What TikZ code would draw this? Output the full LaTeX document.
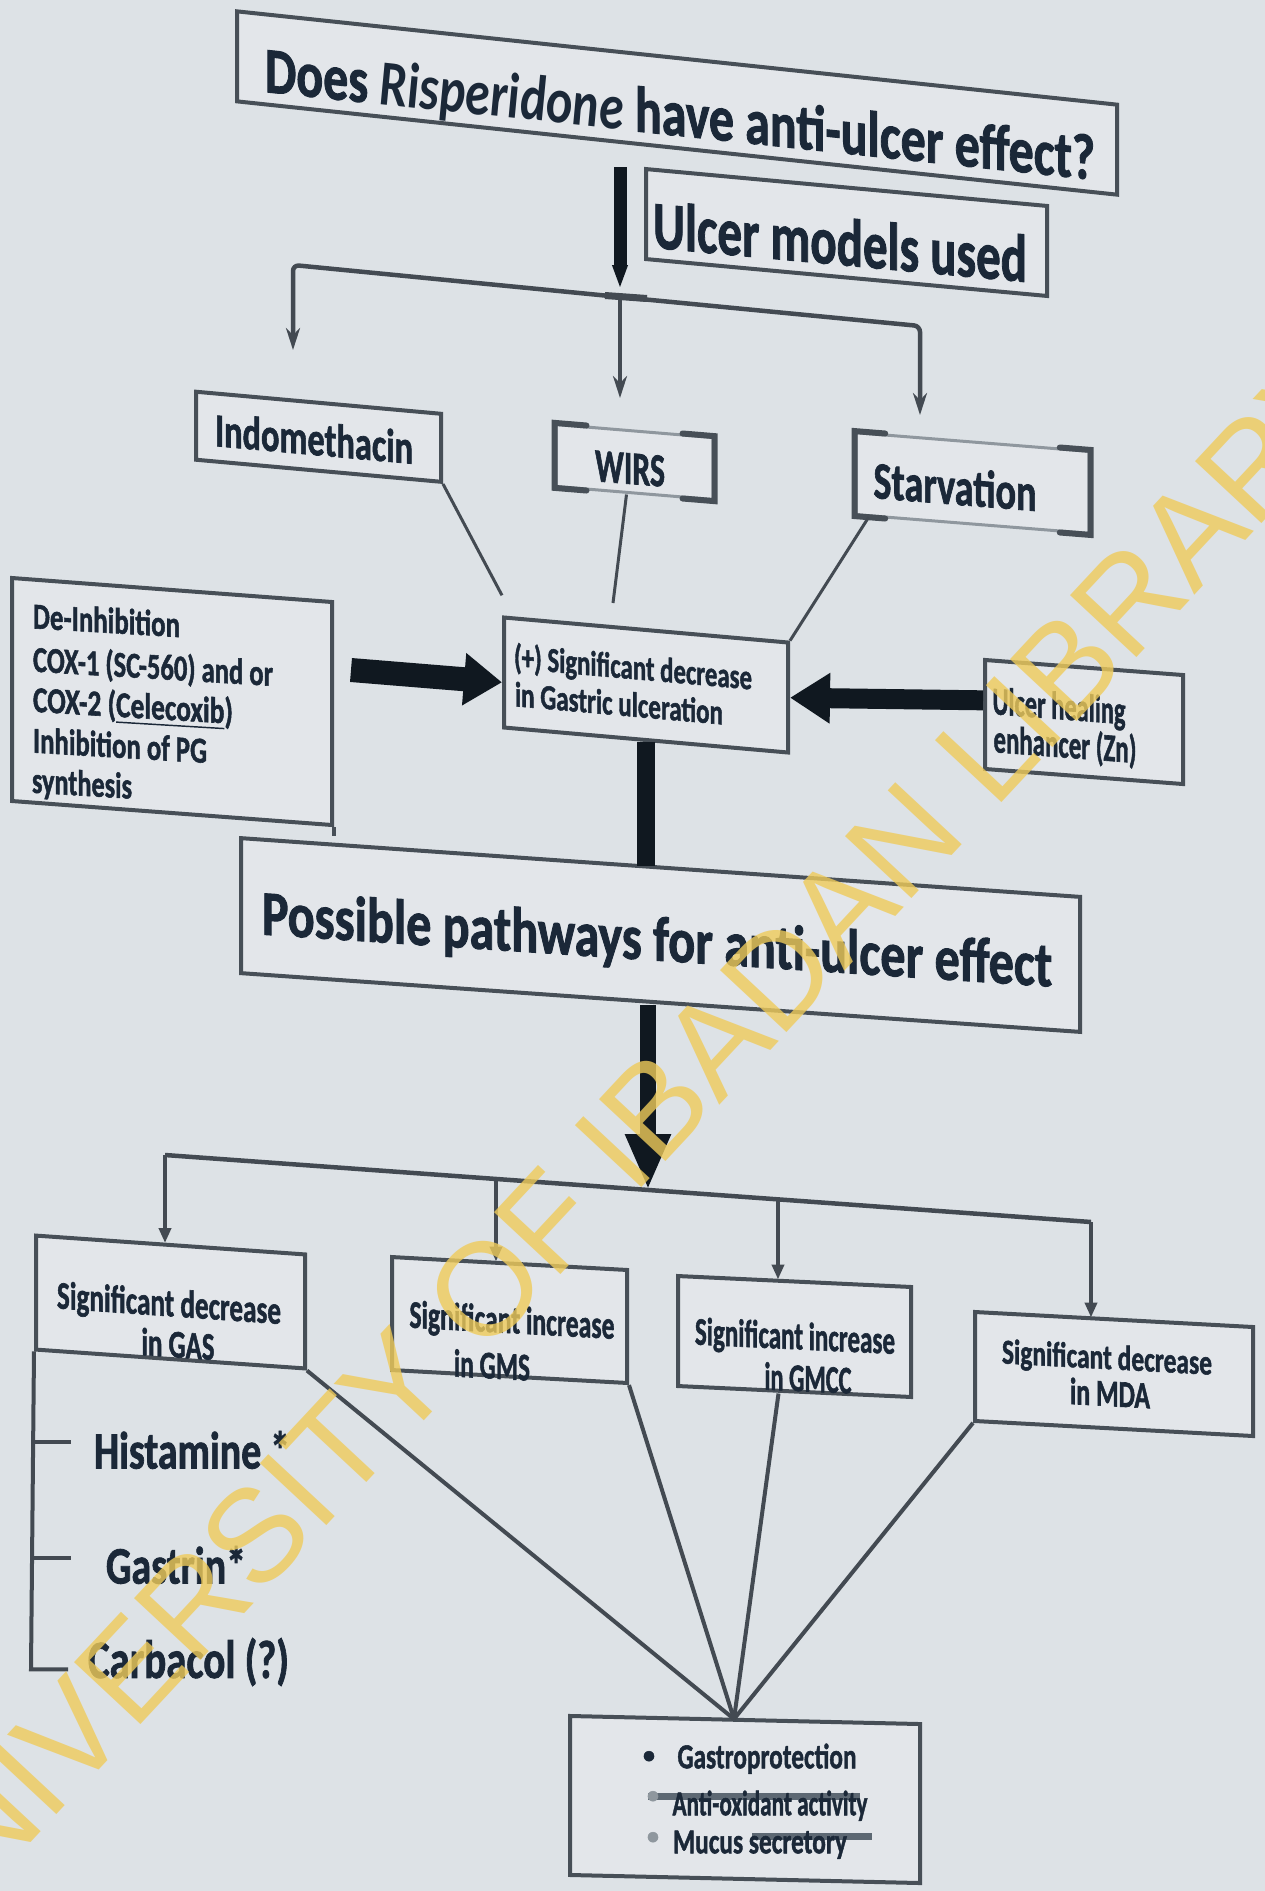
\documentclass[tikz,border=0pt]{standalone}
\usepackage{fontspec}
\usepackage{graphicx}
\setmainfont{Carlito}[BoldFeatures={FakeBold=1.6}]
\setsansfont{Liberation Sans}
\usetikzlibrary{arrows.meta,calc}

\definecolor{paper}{HTML}{DDE2E6}
\definecolor{boxfill}{HTML}{E3E6EA}
\definecolor{boxline}{HTML}{474F57}
\definecolor{ink}{HTML}{1B2838}
\definecolor{wire}{HTML}{434A52}
\definecolor{heavyink}{HTML}{101820}
\definecolor{faint}{HTML}{8F979E}
\definecolor{barcol}{HTML}{5D6873}
\definecolor{stamp}{HTML}{EFCB5A}

% squeeze a line of text into a given width and height (in pt)
\newcommand\fitline[3]{\resizebox{#1pt}{#2pt}{\vphantom{(}#3}}

\begin{document}
\begin{tikzpicture}[x=1pt,y=-1pt,
  box/.style={draw=boxline,line width=4pt,fill=boxfill,inner sep=0pt,transform shape},
  bracketbox/.style={draw=faint,line width=3pt,fill=boxfill,inner sep=0pt,transform shape},
  bracket/.style={draw=boxline,line width=6pt,line cap=round},
  lbl/.style={inner sep=0pt,text=ink,font=\bfseries,transform shape},
  conn/.style={draw=wire,line width=4.5pt},
  headup/.style={-{Stealth[length=22pt,width=14pt]}},
  headlow/.style={-{Triangle[length=15pt,width=12pt]}},
  fat/.style={draw=heavyink},
  bar/.style={draw=barcol,line width=7pt},
  stampfont/.style={inner sep=0pt,text=stamp,text opacity=0.8,font=\sffamily\fontsize{132}{132}\selectfont}]

\useasboundingbox (0,0) rectangle (1265,1891);
\fill[paper] (0,0) rectangle (1265,1891);

% ---------- boxes ----------
\node[box, minimum width=880pt, minimum height=90pt, yslant=-0.106] (q) at (677,103) {};
\node[box, minimum width=401pt, minimum height=90pt, yslant=-0.092] (models) at (846.5,232.5) {};
\node[box, minimum width=245pt, minimum height=68pt, yslant=-0.09] (indo) at (318.5,436.75) {};
\node[bracketbox, minimum width=157pt, minimum height=62pt, yslant=-0.083] (wirs) at (634.5,462) {};
\node[bracketbox, minimum width=233pt, minimum height=82pt, yslant=-0.08] (starv) at (972.5,483) {};
\node[box, minimum width=284pt, minimum height=110pt, yslant=-0.088] (gu) at (646,685) {};
\node[box, minimum width=320pt, minimum height=223pt, yslant=-0.075] (deinh) at (172,701.5) {};
\node[box, minimum width=198pt, minimum height=109pt, yslant=-0.076] (zn) at (1084,722) {};
\node[box, minimum width=839pt, minimum height=135pt, yslant=-0.07] (path) at (660.5,935) {};
\node[box, minimum width=269pt, minimum height=114pt, yslant=-0.07] (gas) at (170.5,1302) {};
\node[box, minimum width=235pt, minimum height=113pt, yslant=-0.055] (gms) at (509.5,1320) {};
\node[box, minimum width=233pt, minimum height=110pt, yslant=-0.047] (gmcc) at (794.5,1336.5) {};
\node[box, minimum width=278pt, minimum height=109pt, yslant=-0.054] (mda) at (1114,1374) {};
\node[box, minimum width=350pt, minimum height=159pt, yslant=-0.023] (out) at (745,1799.5) {};

% right edge of the de-inhibition box runs on to the pathways box
\draw[draw=boxline,line width=4pt] (deinh.south east) -- (deinh.south east |- path.north west);

% corner brackets of the two model boxes
\foreach \b/\f in {wirs/0.2,starv/0.13}{
  \draw[bracket] ($(\b.north west)!\f!(\b.north east)$) -- (\b.north west) -- (\b.south west) -- ($(\b.south west)!\f!(\b.south east)$);
  \draw[bracket] ($(\b.north east)!\f!(\b.north west)$) -- (\b.north east) -- (\b.south east) -- ($(\b.south east)!\f!(\b.south west)$);
}

% grey rules behind the summary lines
\draw[bar] (648,1796) -- (860,1796);
\draw[bar] (752,1836) -- (872,1836);

% ---------- texts ----------
\node[lbl, yslant=-0.106] (qt) at (680,117) {\fitline{830}{48}{Does \textit{Risperidone} have anti-ulcer effect?}};
\node[lbl, yslant=-0.092] (mt) at (840,245) {\fitline{374}{50}{Ulcer models used}};
\node[lbl, yslant=-0.09] (it) at (314,441) {\fitline{198}{35}{Indomethacin}};
\node[lbl, yslant=-0.08] (wt) at (630,470) {\fitline{70}{35}{WIRS}};
\node[lbl, yslant=-0.08] (st) at (955,489) {\fitline{163}{39}{Starvation}};

\node[lbl, yslant=-0.088] (gut1) at (633,669) {\fitline{238}{26}{(+) Significant decrease}};
\node[lbl, yslant=-0.088] (gut2) at (619,705) {\fitline{208}{26}{in Gastric ulceration}};

\node[lbl, yslant=-0.06] (dt1) at (106.5,622) {\fitline{147}{27}{De-Inhibition}};
\node[lbl, yslant=-0.06] (dt2) at (153,668) {\fitline{240}{27}{COX-1 (SC-560) and or}};
\node[lbl, yslant=-0.06] (dt3) at (133,708) {\fitline{200}{27}{COX-2 (\underline{Celecoxib})}};
\node[lbl, yslant=-0.06] (dt4) at (120,747) {\fitline{174}{27}{Inhibition of PG}};
\node[lbl, yslant=-0.06] (dt5) at (82,785) {\fitline{100}{27}{synthesis}};

\node[lbl, yslant=-0.076] (zt1) at (1059,708) {\fitline{133}{29}{Ulcer healing}};
\node[lbl, yslant=-0.076] (zt2) at (1065,746) {\fitline{143}{29}{enhancer (Zn)}};

\node[lbl, yslant=-0.066] (pt) at (657,942) {\fitline{790}{47}{Possible pathways for anti-ulcer effect}};

\node[lbl, yslant=-0.07] (gast1) at (169,1305) {\fitline{224}{29}{Significant decrease}};
\node[lbl, yslant=-0.07] (gast2) at (178,1346) {\fitline{73}{29}{in GAS}};
\node[lbl, yslant=-0.055] (gmst1) at (512,1322) {\fitline{205}{29}{Significant increase}};
\node[lbl, yslant=-0.055] (gmst2) at (492,1367) {\fitline{76}{29}{in GMS}};
\node[lbl, yslant=-0.047] (gmcct1) at (795,1338) {\fitline{200}{29}{Significant increase}};
\node[lbl, yslant=-0.047] (gmcct2) at (808,1380) {\fitline{87}{29}{in GMCC}};
\node[lbl, yslant=-0.054] (mdat1) at (1107,1359) {\fitline{210}{26}{Significant decrease}};
\node[lbl, yslant=-0.054] (mdat2) at (1110,1395) {\fitline{80}{28}{in MDA}};

\node[lbl] (hist) at (192,1453) {\fitline{196}{39}{Histamine *}};
\node[lbl] (gastr) at (176,1568) {\fitline{140}{39}{Gastrin*}};
\node[lbl] (carb) at (188.5,1662) {\fitline{201}{40}{Carbacol (?)}};

\node[lbl] (b1) at (649,1757) {\fontsize{24}{24}\selectfont •};
\node[lbl, text=faint] (b2) at (653,1797) {\fontsize{24}{24}\selectfont •};
\node[lbl, text=faint] (b3) at (653,1838) {\fontsize{24}{24}\selectfont •};
\node[lbl] (ot1) at (767,1758) {\fitline{179}{26}{Gastroprotection}};
\node[lbl] (ot2) at (770,1805) {\fitline{195}{26}{Anti-oxidant activity}};
\node[lbl] (ot3) at (760,1843) {\fitline{174}{26}{Mucus secretory}};

% ---------- connectors: upper part ----------
\coordinate (qa) at (620,167);
\coordinate (split) at (620,297);
\coordinate (bl1) at (293,265);
\coordinate (br1) at (920,326);
\coordinate (ia) at (293,350);
\coordinate (wa) at (620,398);
\coordinate (sa) at (920,415);

\draw[fat, line width=13pt, -{Triangle[length=24pt,width=14pt]}] (qa) -- ([yshift=8pt]split);
\draw[conn, rounded corners=6pt, headup] (split) -- (bl1) -- (ia);
\draw[conn, rounded corners=6pt, headup] (split) -- (br1) -- (sa);
\draw[conn, headup] (split) -- (wa);
\draw[draw=wire, line width=7pt] ([xshift=-15pt,yshift=1.5pt]split) -- ([xshift=27pt,yshift=-1.5pt]split);

\coordinate (gw) at (613,603);
\draw[conn, line width=3pt] (indo.south east) -- ([yshift=20pt]gu.north west);
\draw[conn, line width=3pt] ([xshift=-8pt]wirs.south) -- (gw);
\draw[conn, line width=3pt] ($(starv.south west)!0.06!(starv.south east)$) -- (gu.north east);

\coordinate (dstart) at (351,670);
\draw[fat, line width=24pt, -{Triangle[length=38pt,width=50pt]}] (dstart) -- ([yshift=-10pt]gu.west);
\draw[fat, line width=20pt, -{Triangle[length=40pt,width=48pt]}] ([yshift=14pt]zn.west) -- (gu.east);
\draw[fat, line width=18pt] (gu.south) -- (gu.south |- path.north);

% ---------- connectors: lower part ----------
\coordinate (fork) at (648,1190);
\coordinate (fl) at (165,1155);
\coordinate (f2) at (496,1179);
\coordinate (f3) at (778,1199);
\coordinate (fr) at (1091,1222);
\draw[fat, line width=16pt, -{Triangle[length=56pt,width=42pt]}] (path.south -| fork) -- (fork);
\draw[conn] (fl) -- (fr);
\draw[conn, headlow] (fl) -- (fl |- gas.north);
\draw[conn, headlow] (f2) -- (f2 |- gms.north);
\draw[conn, headlow] (f3) -- (f3 |- gmcc.north);
\draw[conn, headlow] (fr) -- (fr |- mda.north);

% bracket holding the three secretagogues
\draw[conn, line width=4pt] (gas.south west) -- ++(-3,318) -- ++(37,0);
\draw[conn, line width=4pt] (34,1442) -- (71,1442);
\draw[conn, line width=4pt] (34,1558) -- (71,1558);

% all four outcomes meet on the summary box
\coordinate (cv) at (734,1719);
\draw[conn, line width=4pt] (gas.south east) -- (cv);
\draw[conn, line width=4pt] (gms.south east) -- (cv);
\draw[conn, line width=4pt] ([xshift=-16pt]gmcc.south) -- (cv);
\draw[conn, line width=4pt] (mda.south west) -- (cv);

% ---------- library stamp ----------
\node[stampfont, rotate=47] (stampline) at (615,1150) {UNIVERSITY OF IBADAN LIBRARY};
\end{tikzpicture}
\end{document}
